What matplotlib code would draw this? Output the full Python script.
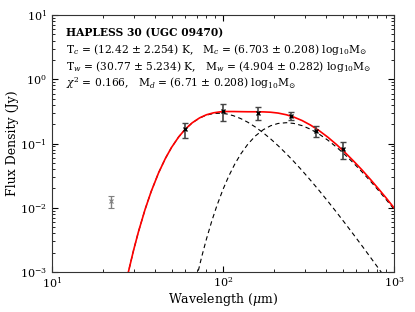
import numpy as np
import matplotlib
matplotlib.use("Agg")
import matplotlib.pyplot as plt

plt.rcParams['font.family'] = 'DejaVu Serif'
plt.rcParams['mathtext.fontset'] = 'dejavuserif'

##### DATA
# photometry used in the fit
wl_fit = [60, 100, 160, 250, 350, 500]
flux_fit = [0.166, 0.318, 0.303, 0.271, 0.157, 0.081]
err_fit = [0.044, 0.093, 0.071, 0.040, 0.030, 0.023]
# point not used in fit (grey)
wl_ex = [22]
flux_ex = [0.0127]
err_ex = [0.0026]

# warm component (dashed) and total model (red) share the same wavelengths
wl_mod = [27, 28, 30, 32, 35, 38, 42, 46, 50, 55, 60, 66, 73, 80, 88, 96, 105,
          115, 127, 140, 155, 172, 190, 210, 235, 260, 290, 325, 365, 410, 460,
          515, 580, 650, 730, 820, 900, 1000]
flux_warm = [0.000656, 0.001015, 0.00219, 0.0042, 0.00939, 0.01787, 0.03497,
             0.05843, 0.08685, 0.1262, 0.1659, 0.2093, 0.2495, 0.2769, 0.2930,
             0.2961, 0.2884, 0.2710, 0.2443, 0.2135, 0.1798, 0.1466, 0.1178,
             0.0925, 0.0691, 0.0522, 0.0380, 0.0268, 0.01855, 0.01268, 0.0086,
             0.00583, 0.00384, 0.00256, 0.00168, 0.0011, 0.00078, 0.00052]
flux_tot = [0.000656, 0.001015, 0.00219, 0.0042, 0.00939, 0.01787, 0.03497,
            0.05843, 0.08685, 0.1262, 0.1660, 0.2097, 0.2508, 0.2802, 0.3005,
            0.3107, 0.3147, 0.3145, 0.3130, 0.3119, 0.3116, 0.3107, 0.3068,
            0.2977, 0.2800, 0.2575, 0.2278, 0.1936, 0.1585, 0.1256, 0.0969,
            0.0733, 0.0534, 0.0388, 0.0274, 0.0191, 0.0142, 0.0100]
# cold component (dashed)
wl_cold = [70, 75, 80, 86, 92, 100, 108, 117, 127, 140, 155, 172, 190, 210, 235,
           260, 290, 325, 365, 410, 460, 515, 580, 650, 730, 820, 900, 1000]
flux_cold = [0.000802, 0.001714, 0.003259, 0.006231, 0.01071, 0.01933, 0.03102,
             0.04745, 0.06866, 0.09841, 0.1318, 0.1641, 0.1890, 0.2052, 0.2109,
             0.2053, 0.1898, 0.1668, 0.1399, 0.1129, 0.08834, 0.06752, 0.04964,
             0.03618, 0.02574, 0.01802, 0.0134, 0.0095]

title = "HAPLESS 30 (UGC 09470)"
line_c = r"T$_c$ = (12.42 $\pm$ 2.254) K,   M$_c$ = (6.703 $\pm$ 0.208) log$_{10}$M$_{\odot}$"
line_w = r"T$_w$ = (30.77 $\pm$ 5.234) K,   M$_w$ = (4.904 $\pm$ 0.282) log$_{10}$M$_{\odot}$"
line_chi = r"$\chi^2$ = 0.166,   M$_d$ = (6.71 $\pm$ 0.208) log$_{10}$M$_{\odot}$"

##### PLOT
fig = plt.figure(figsize=(4.15, 3.12), dpi=100)
ax = fig.add_axes([0.1253, 0.128, 0.8241, 0.824])

ax.plot(wl_mod, flux_warm, ls='--', color='k', lw=0.8, dashes=(4, 3))
ax.plot(wl_cold, flux_cold, ls='--', color='k', lw=0.8, dashes=(4, 3))
ax.plot(wl_mod, flux_tot, color='red', lw=1.2)

ax.errorbar(wl_fit, flux_fit, yerr=err_fit, fmt='x', color='k', ms=3, mew=1,
            ecolor='#444444', elinewidth=1.2, capsize=2.5, capthick=1)
ax.errorbar(wl_ex, flux_ex, yerr=err_ex, fmt='x', color='grey', ms=3, mew=0.8,
            ecolor='grey', elinewidth=1, capsize=2, capthick=0.8)

ax.set_xscale('log')
ax.set_yscale('log')
ax.set_xlim(10, 1000)
ax.set_ylim(1e-3, 10)
ax.set_xlabel(r"Wavelength ($\mu$m)", fontsize=9, labelpad=0.5)
ax.set_ylabel("Flux Density (Jy)", fontsize=9, labelpad=1)
ax.tick_params(which='both', direction='in', top=True, right=True, labelsize=8)
ax.tick_params(axis='x', which='major', pad=2.5)
ax.tick_params(which='major', length=4)
ax.tick_params(which='minor', length=2)
for s in ax.spines.values():
    s.set_color('#333333')

ax.text(0.04, 0.93, title, transform=ax.transAxes, fontsize=7.7, fontweight='bold', va='center')
ax.text(0.04, 0.865, line_c, transform=ax.transAxes, fontsize=7.7, va='center')
ax.text(0.04, 0.80, line_w, transform=ax.transAxes, fontsize=7.7, va='center')
ax.text(0.04, 0.735, line_chi, transform=ax.transAxes, fontsize=7.7, va='center')

fig.savefig("out.png", dpi=100)
